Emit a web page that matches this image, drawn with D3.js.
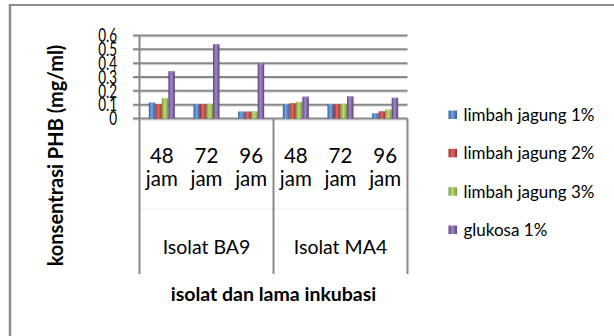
<!DOCTYPE html>
<html>
<head>
<meta charset="utf-8">
<script src="https://cdn.jsdelivr.net/npm/d3@7"></script>
<style>
  html, body { margin: 0; padding: 0; background: #fff; }
  svg { display: block; font-family: Lato, "Noto Sans", sans-serif; }
</style>
</head>
<body>
<svg id="chart" width="614" height="336"></svg>
<script>
// Categories: incubation time within each isolate
const isolates = ["Isolat BA9", "Isolat MA4"];
const hours = ["48", "72", "96"];
const categories = ["BA9-48", "BA9-72", "BA9-96", "MA4-48", "MA4-72", "MA4-96"];
const seriesNames = ["limbah jagung 1%", "limbah jagung 2%", "limbah jagung 3%", "glukosa 1%"];

// PHB concentration (mg/ml), one array per carbon source, in category order
const limbah1 = [0.115, 0.103, 0.050, 0.105, 0.103, 0.038];
const limbah2 = [0.103, 0.103, 0.050, 0.110, 0.103, 0.052];
const limbah3 = [0.148, 0.103, 0.052, 0.120, 0.105, 0.065];
const glukosa1 = [0.342, 0.537, 0.398, 0.158, 0.160, 0.150];
const seriesValues = [limbah1, limbah2, limbah3, glukosa1];

const yTicks = [0, 0.1, 0.2, 0.3, 0.4, 0.5, 0.6];
const yTickLabels = ["0", "0.1", "0.2", "0.3", "0.4", "0.5", "0.6"];

// Colour ramps for the bevelled bars: [edge, centre]
const palette = [
  ["#2f5f9c", "#77a5e2"],
  ["#9e2d2a", "#e06a66"],
  ["#789838", "#bcda78"],
  ["#5a4281", "#a488c8"]
];

const svg = d3.select("#chart");
const W = 614, H = 336;
svg.append("rect").attr("width", W).attr("height", H).attr("fill", "#fff");

// gradients
const defs = svg.append("defs");
palette.forEach((c, i) => {
  const g = defs.append("linearGradient").attr("id", "grad" + i)
    .attr("x1", "0%").attr("x2", "100%").attr("y1", "0%").attr("y2", "0%");
  g.append("stop").attr("offset", "0%").attr("stop-color", c[0]);
  g.append("stop").attr("offset", "45%").attr("stop-color", c[1]);
  g.append("stop").attr("offset", "100%").attr("stop-color", c[0]);
});

// outer frame (top and left edges)
const frameColor = "#8c8c8c";
svg.append("line").attr("x1", 9).attr("x2", W).attr("y1", 5).attr("y2", 5)
  .attr("stroke", frameColor).attr("stroke-width", 2);
svg.append("line").attr("x1", 10).attr("x2", 10).attr("y1", 4).attr("y2", H)
  .attr("stroke", frameColor).attr("stroke-width", 2.5);

// plot geometry
const plot = { left: 139.5, right: 407.5, top: 35.5, bottom: 118.5 };
const y = d3.scaleLinear().domain([0, 0.6]).range([plot.bottom, plot.top]);
const x0 = d3.scaleBand().domain(categories).range([plot.left, plot.right]).padding(0);
const x1 = d3.scaleBand().domain(d3.range(seriesNames.length))
  .range([0, x0.bandwidth()]).paddingInner(0).paddingOuter(1.43);

// gridlines
const grid = svg.append("g");
yTicks.forEach(t => {
  grid.append("line").attr("x1", 133).attr("x2", plot.right)
    .attr("y1", y(t) + 1.5).attr("y2", y(t) + 1.5)
    .attr("stroke", "#dcdcdc").attr("stroke-width", 1);
  grid.append("line").attr("x1", 133).attr("x2", plot.right)
    .attr("y1", y(t)).attr("y2", y(t))
    .attr("stroke", "#888").attr("stroke-width", 2);
});

// y tick labels (tall, narrow digits, tightly stacked)
const yl = svg.append("g");
yTicks.forEach((t, i) => {
  yl.append("text")
    .attr("transform", `translate(117,${y(t)}) scale(1,1.38)`)
    .attr("text-anchor", "end").attr("dy", "0.36em")
    .attr("font-size", 13.5).attr("fill", "#000")
    .text(yTickLabels[i]);
});

// category axis frame
const axisBottom = 274;
const sepXs = [plot.left, x0(categories[3]), plot.right];
svg.append("line").attr("x1", plot.left).attr("x2", plot.right)
  .attr("y1", 209).attr("y2", 209).attr("stroke", "#ececec").attr("stroke-width", 1);
sepXs.forEach(sx => {
  svg.append("line").attr("x1", sx).attr("x2", sx)
    .attr("y1", sx === plot.left ? plot.top : plot.bottom).attr("y2", axisBottom)
    .attr("stroke", "#888").attr("stroke-width", 2);
});

// bars
const bars = svg.append("g");
categories.forEach((cat, ci) => {
  seriesValues.forEach((vals, si) => {
    const v = vals[ci];
    const bx = x0(cat) + x1(si);
    bars.append("rect")
      .attr("x", bx).attr("y", y(v))
      .attr("width", x1.bandwidth()).attr("height", y(0) - y(v))
      .attr("fill", `url(#grad${si})`);
    bars.append("rect")
      .attr("x", bx + 1).attr("y", y(v))
      .attr("width", x1.bandwidth() - 2).attr("height", 1)
      .attr("fill", palette[si][1]).attr("opacity", 0.8);
  });
});

// category labels: hour + "jam"
const cl = svg.append("g").attr("font-size", 20.5).attr("fill", "#000").attr("text-anchor", "middle");
categories.forEach((cat, ci) => {
  const cx = x0(cat) + x0.bandwidth() / 2;
  cl.append("text").attr("x", cx).attr("y", 162.5).text(hours[ci % 3]);
  cl.append("text").attr("x", cx).attr("y", 186).text("jam");
});

// isolate group labels
isolates.forEach((iso, gi) => {
  const cx = (sepXs[gi] + sepXs[gi + 1]) / 2;
  svg.append("text").attr("x", cx).attr("y", 254)
    .attr("text-anchor", "middle").attr("font-size", 19.5).attr("fill", "#000")
    .text(iso);
});

// axis titles
svg.append("text").attr("x", 273.5).attr("y", 301)
  .attr("text-anchor", "middle").attr("font-size", 19.5).attr("font-weight", "bold")
  .attr("fill", "#000").text("isolat dan lama inkubasi");
svg.append("text")
  .attr("transform", "translate(63,155.5) rotate(-90)")
  .attr("text-anchor", "middle").attr("font-size", 20).attr("font-weight", "bold")
  .attr("fill", "#000").text("konsentrasi PHB (mg/ml)");

// legend
const legend = svg.append("g");
const legendY = d3.scalePoint().domain(seriesNames).range([115, 230]);
seriesNames.forEach((name, si) => {
  const ly = legendY(name);
  legend.append("rect").attr("x", 448.5).attr("y", ly - 4.5)
    .attr("width", 8.5).attr("height", 8.5).attr("fill", `url(#grad${si})`);
  legend.append("text").attr("x", 463.5).attr("y", ly).attr("dy", "0.35em")
    .attr("font-size", 17).attr("fill", "#000").text(name);
});
</script>
</body>
</html>
